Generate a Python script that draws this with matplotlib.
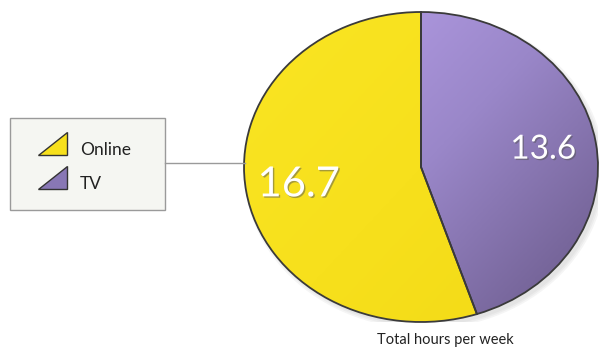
import numpy as np
import matplotlib
matplotlib.use("Agg")
import matplotlib.pyplot as plt
from matplotlib.patches import Polygon, Rectangle, Ellipse
from matplotlib.lines import Line2D
from matplotlib.colors import LinearSegmentedColormap
import matplotlib.patheffects as pe

# data
categories = ['Online', 'TV']
hours = [16.7, 13.6]
colors = ['#f7e01c', '#9a86c8']
caption = 'Total hours per week'

plt.rcParams['font.family'] = ['Lato', 'DejaVu Sans']

W, H = 600, 350
fig = plt.figure(figsize=(6, 3.5), dpi=100)
fig.patch.set_facecolor('white')

def fx(px):
    return px / W

def fy(py):
    return 1 - py / H

# pie axes (ellipse spans x 244..598, y 12..322 px)
ax = fig.add_axes([fx(244), fy(322), fx(598) - fx(244), (322 - 12) / H])

# soft shadow
for k, a in enumerate([0.05, 0.05, 0.06]):
    ax.add_patch(Ellipse((0.02, -0.025), 2.0 + 0.02 * k, 2.0 + 0.02 * k,
                         facecolor='#555555', edgecolor='none', alpha=a, zorder=0))

total = sum(hours)
wedges, texts, autotexts = ax.pie(
    hours, colors=colors, startangle=90, counterclock=True,
    autopct=lambda p: f'{p * total / 100:.1f}', pctdistance=0.7,
    wedgeprops=dict(edgecolor='#3a3a3a', linewidth=1.3),
    textprops=dict(color='white'))

# gradient: light top-left, dark bottom-right
gx, gy = np.meshgrid(np.linspace(0, 1, 200), np.linspace(0, 1, 200))
grad = 0.55 * gx + 0.45 * gy

cmap = LinearSegmentedColormap.from_list('tv', ['#bda4f0', '#9a87c9', '#685887'])
img = ax.imshow(grad, extent=(-1, 1, -1, 1), cmap=cmap, aspect='auto',
                zorder=wedges[1].get_zorder() - 0.05, interpolation='bilinear')
img.set_clip_path(wedges[1])
wedges[1].set_facecolor('none')

cmap_y = LinearSegmentedColormap.from_list('on', ['#fae523', '#f7e01c', '#f2d916'])
img2 = ax.imshow(grad, extent=(-1, 1, -1, 1), cmap=cmap_y, aspect='auto',
                 zorder=wedges[0].get_zorder() - 0.05, interpolation='bilinear')
img2.set_clip_path(wedges[0])
wedges[0].set_facecolor('none')

sizes = [30, 24]
for t, s in zip(autotexts, sizes):
    t.set_fontsize(s)
    t.set_path_effects([pe.withSimplePatchShadow(offset=(1, -1), shadow_rgbFace='#555555', alpha=0.5)])

ax.set_aspect('auto')
ax.set_xlim(-1.0, 1.0)
ax.set_ylim(-1.0, 1.0)
ax.axis('off')

fig.text(fx(445), fy(340), caption, ha='center', va='center', fontsize=10.5, color='#222222')

# legend box
lax = fig.add_axes([fx(10), fy(210), fx(165) - fx(10), (210 - 118) / H])
lax.set_xlim(0, 155)
lax.set_ylim(92, 0)
lax.axis('off')
lax.add_patch(Rectangle((0, 0), 155, 92, facecolor='#f5f6f2', edgecolor='#9a9a9a',
                        linewidth=1, clip_on=False))
for i, (name, c) in enumerate(zip(categories, colors)):
    yb = 37 + i * 34
    tri = Polygon([(28, yb), (57, yb), (57, yb - 23)], closed=True,
                  facecolor=c if i == 0 else '#8877b5', edgecolor='#333333', linewidth=1)
    lax.add_patch(tri)
    lax.text(70, yb, name, fontsize=12.5, color='#222222', va='baseline', ha='left')

# leader line
fig.add_artist(Line2D([fx(165), fx(245)], [fy(163), fy(163)], color='#9a9a9a', linewidth=1))

fig.savefig('out.png', dpi=100)
